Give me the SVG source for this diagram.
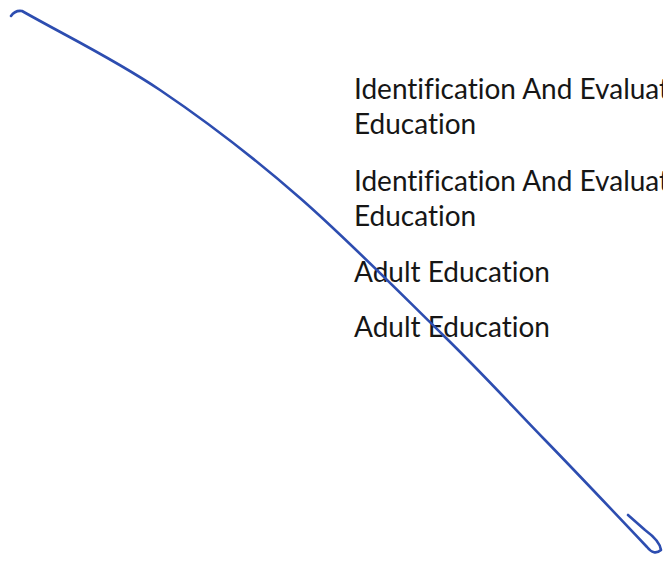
<svg xmlns="http://www.w3.org/2000/svg" width="663" height="561" viewBox="0 0 663 561">
<style>
.t{font-family:Lato,"Open Sans","Liberation Sans",sans-serif;font-size:28px;fill:#161616;font-variant-ligatures:none;font-feature-settings:"liga" 0,"dlig" 0}
.ink{fill:none;stroke:#2d4db0;stroke-width:2.6;stroke-linecap:round;stroke-linejoin:round}
</style>
<rect width="663" height="561" fill="#ffffff"/>
<g id="labels">
<text class="t" x="354" y="99">Identification And Evaluat</text>
<text class="t" x="354" y="134">Education</text>
<text class="t" x="354" y="191">Identification And Evaluat</text>
<text class="t" x="354" y="226">Education</text>
<text class="t" x="354" y="282">Adult Education</text>
<text class="t" x="354" y="337">Adult Education</text>
</g>
<g id="connectors">
<path class="ink" d="M11,16 Q15,10 22,11 C68,37 114,59 160,90 C206,121 253,157 300,198 C347,239 402,295 443,335 C484,375 511,405 545,440 C579,475 613,511 647,547 Q654,556 661,550 Q660,541 645,530 L628,515"/>
</g>
</svg>
